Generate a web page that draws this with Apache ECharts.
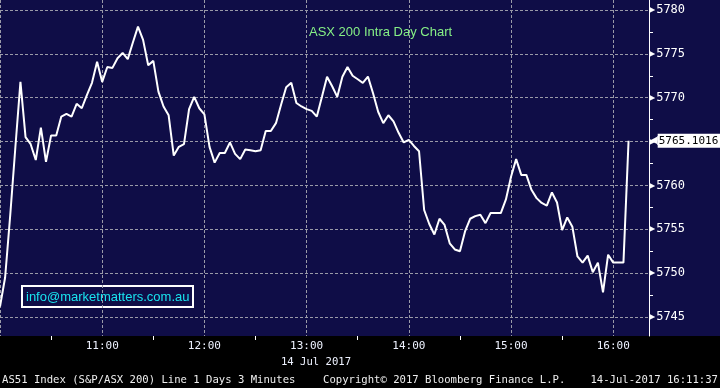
<!DOCTYPE html>
<html><head><meta charset="utf-8">
<script src="https://cdn.jsdelivr.net/npm/echarts@6/dist/echarts.min.js"></script>
<style>html,body{margin:0;padding:0;background:#000}#c{width:720px;height:388px}</style>
</head><body><div id="c"></div><script>
// ---- data ----
const startMinute = 10 * 60;   // 10:00
const stepMinutes = 3;         // 3-minute bars
const slotCount = 128;         // 10:00 .. 16:21 axis span
const values = [
  5746.2, 5749.5, 5756.6, 5764.3, 5771.8, 5765.5, 5764.7, 5762.9, 5766.6, 5762.7,
  5765.7, 5765.7, 5767.85, 5768.15, 5767.85, 5769.3, 5768.8, 5770.3, 5771.7, 5774.1,
  5771.8, 5773.5, 5773.4, 5774.5, 5775.1, 5774.4, 5776.3, 5778.1, 5776.6, 5773.7,
  5774.2, 5770.7, 5769.0, 5768.0, 5763.4, 5764.4, 5764.7, 5768.7, 5770.1, 5768.8,
  5768.1, 5764.4, 5762.6, 5763.7, 5763.7, 5764.9, 5763.6, 5763.0, 5764.1, 5764.0,
  5763.9, 5764.0, 5766.2, 5766.2, 5767.1, 5769.2, 5771.2, 5771.7, 5769.4, 5769.0,
  5768.7, 5768.5, 5767.85, 5770.1, 5772.4, 5771.3, 5770.1, 5772.4, 5773.5, 5772.5,
  5772.1, 5771.7, 5772.4, 5770.5, 5768.4, 5767.1, 5768.0, 5767.3, 5766.0, 5764.9,
  5765.2, 5764.5, 5763.9, 5757.2, 5755.6, 5754.4, 5756.2, 5755.5, 5753.4, 5752.7,
  5752.5, 5754.75, 5756.2, 5756.5, 5756.65, 5755.7, 5756.85, 5756.85, 5756.85, 5758.4,
  5761.0, 5763.0, 5761.2, 5761.2, 5759.5, 5758.55, 5758.0, 5757.7, 5759.2, 5758.05,
  5754.9, 5756.35, 5755.3, 5751.9, 5751.2, 5752.0, 5750.1, 5751.2, 5747.8, 5752.1,
  5751.2, 5751.2, 5751.2, 5765.1016
];
const xTickLabels = ['11:00', '12:00', '13:00', '14:00', '15:00', '16:00'];
const xGridTimes = ['10:00', '11:00', '12:00', '13:00', '14:00', '15:00', '16:00'];
const xHalfHourTicks = ['10:30', '11:30', '12:30', '13:30', '14:30', '15:30'];
const yTickValues = [5745, 5750, 5755, 5760, 5765, 5770, 5775, 5780];
const chartTitle = 'ASX 200 Intra Day Chart';
const dateLabel = '14 Jul 2017';
const emailText = 'info@marketmatters.com.au';
const footerLeft = 'AS51 Index (S&P/ASX 200) Line 1 Days 3 Minutes';
const footerMid = 'Copyright\u00A9 2017 Bloomberg Finance L.P.';
const footerRight = '14-Jul-2017 16:11:37';

// ---- build ----
function fmt(m) {
  const h = Math.floor(m / 60), mm = m % 60;
  return (h < 10 ? '0' : '') + h + ':' + (mm < 10 ? '0' : '') + mm;
}
const categories = [];
for (let i = 0; i < slotCount; i++) categories.push(fmt(startMinute + i * stepMinutes));
const lastValue = values[values.length - 1];

const NAVY = '#0f0d47';
const GRID = '#9a9aa8';
const MONO = 'DejaVu Sans Mono';
const yMin = yTickValues[0], yMax = yTickValues[yTickValues.length - 1];

const chart = echarts.init(document.getElementById('c'), null, {renderer: 'canvas'});
chart.setOption({
  animation: false,
  backgroundColor: '#000',
  grid: [
    {left: 0, right: 71, top: 0, bottom: 52},
    {left: 0, right: 71, top: 10, bottom: 71}
  ],
  xAxis: [
    {
      type: 'category', gridIndex: 0, data: categories, boundaryGap: false,
      axisLine: {show: false},
      axisTick: {show: true, length: 4, interval: (i, v) => xHalfHourTicks.includes(v),
                 lineStyle: {color: '#ffffff', width: 1}},
      axisLabel: {interval: (i, v) => xTickLabels.includes(v), color: '#eef2ff',
                  fontFamily: MONO, fontSize: 11, margin: 5},
      splitLine: {show: true, interval: (i, v) => xGridTimes.includes(v),
                  lineStyle: {color: GRID, type: [3, 2], width: 1}}
    },
    {type: 'category', gridIndex: 1, data: categories, boundaryGap: false, show: false}
  ],
  yAxis: [
    {
      type: 'value', gridIndex: 0, position: 'right',
      min: 5742.834, max: 5781.14,
      axisLine: {show: true, lineStyle: {color: '#ffffff', width: 1}},
      axisTick: {show: false}, axisLabel: {show: false}, splitLine: {show: false}
    },
    {
      type: 'value', gridIndex: 1, position: 'right',
      min: yMin, max: yMax, interval: 5,
      axisLine: {show: false},
      axisTick: {show: false},
      minorTick: {show: true, splitNumber: 2, length: 4, lineStyle: {color: '#ffffff'}},
      splitLine: {show: true, lineStyle: {color: GRID, type: [3, 2], width: 1}},
      axisLabel: {
        margin: 0,
        formatter: v => '{t|\u25B6}{v|' + v + '}',
        rich: {
          t: {color: '#ffffff', fontSize: 8, fontFamily: 'DejaVu Sans', padding: [0, 1, 0, 0]},
          v: {color: '#ffffff', fontSize: 12, fontFamily: MONO}
        }
      }
    }
  ],
  series: [{
    type: 'line', xAxisIndex: 0, yAxisIndex: 0,
    data: values, symbol: 'none', showSymbol: false,
    lineStyle: {color: '#ffffff', width: 2},
    z: 5,
    markLine: {
      silent: true, symbol: ['none', 'none'],
      lineStyle: {color: 'rgba(0,0,0,0)', width: 0},
      label: {
        show: true, position: 'end', distance: 1,
        formatter: () => '{a|\u25C0}{b|' + lastValue + '}',
        rich: {
          a: {color: '#ffffff', fontSize: 10, fontFamily: 'DejaVu Sans', padding: [0, 0, 0, 0]},
          b: {color: '#000000', backgroundColor: '#ffffff', fontSize: 11, fontFamily: MONO,
              padding: [2, 2, 1, 1]}
        }
      },
      data: [{yAxis: lastValue}]
    }
  }],
  graphic: [
    {type: 'rect', z: -10, zlevel: 0, silent: true,
     shape: {x: 0, y: 0, width: 720, height: 336}, style: {fill: NAVY}},
    {type: 'text', x: 309, y: 32, silent: true,
     style: {text: chartTitle, fill: '#86f086', font: '13px "Liberation Sans"', verticalAlign: 'middle'}},
    {type: 'rect', silent: true, shape: {x: 22, y: 286, width: 171, height: 21},
     style: {fill: 'none', stroke: '#ffffff', lineWidth: 2}},
    {type: 'text', x: 26, y: 297, silent: true,
     style: {text: emailText, fill: '#19e3ee', font: '13px "Liberation Sans"', verticalAlign: 'middle'}},
    {type: 'text', x: 316, y: 362, silent: true,
     style: {text: dateLabel, fill: '#eef2ff', font: '10.6px "DejaVu Sans Mono"', align: 'center', verticalAlign: 'middle'}},
    {type: 'text', x: 2, y: 380, silent: true,
     style: {text: footerLeft, fill: '#eeeeee', font: '10.6px "DejaVu Sans Mono"', verticalAlign: 'middle'}},
    {type: 'text', x: 323, y: 380, silent: true,
     style: {text: footerMid, fill: '#eeeeee', font: '10.6px "DejaVu Sans Mono"', verticalAlign: 'middle'}},
    {type: 'text', x: 718, y: 380, silent: true,
     style: {text: footerRight, fill: '#eeeeee', font: '10.6px "DejaVu Sans Mono"', align: 'right', verticalAlign: 'middle'}}
  ]
});
</script></body></html>
